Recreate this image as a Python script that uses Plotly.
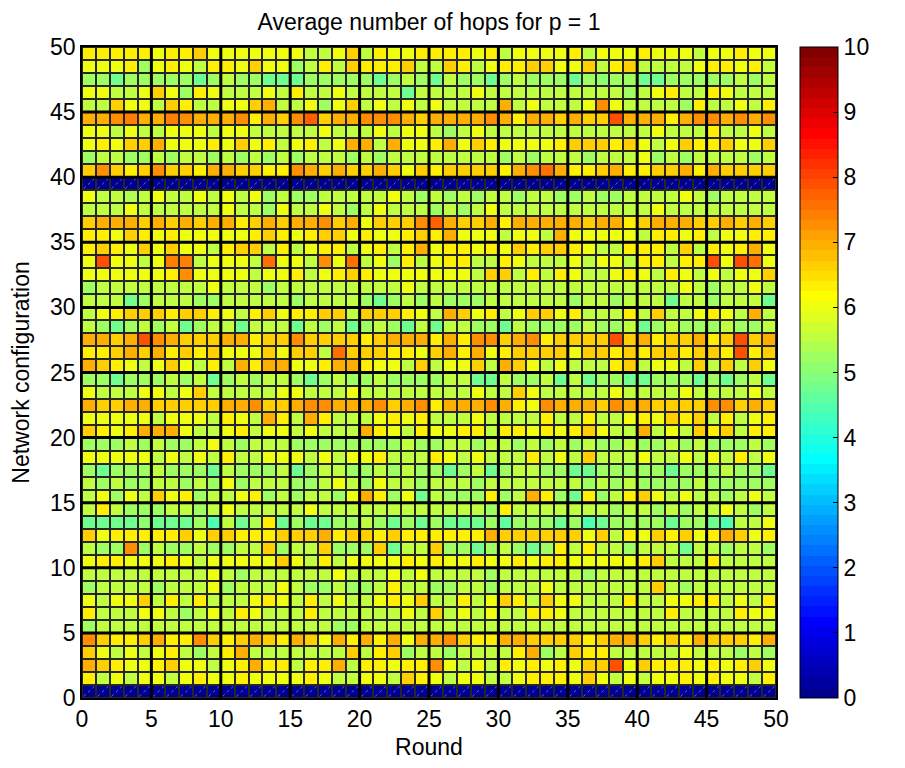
import numpy as np
import plotly.graph_objects as go

# ---------------- data ----------------
# one list per network configuration (row, bottom to top), 50 rounds each
cfg_00 = [0.0,0.0,0.0,0.0,0.0, 0.0,0.0,0.0,0.0,0.0, 0.0,0.0,0.0,0.0,0.0, 0.0,0.0,0.0,0.0,0.0, 0.0,0.0,0.0,0.0,0.0, 0.0,0.0,0.0,0.0,0.0, 0.0,0.0,0.0,0.0,0.0, 0.0,0.0,0.0,0.0,0.0, 0.0,0.0,0.0,0.0,0.0, 0.0,0.0,0.0,0.0,0.0]
cfg_01 = [6.3,5.6,6.0,5.6,6.0, 6.0,5.6,6.0,6.3,6.0, 6.0,6.3,6.0,6.0,6.0, 6.0,6.3,6.0,5.6,5.6, 6.0,6.0,5.6,6.6,6.3, 6.0,5.6,6.0,6.0,5.6, 5.6,6.0,6.3,6.3,6.3, 6.0,6.6,6.0,5.6,6.0, 5.6,6.0,6.0,6.3,6.0, 6.3,6.0,6.0,5.6,6.3]
cfg_02 = [6.9,6.6,6.3,6.0,6.0, 6.3,6.6,6.0,6.0,5.6, 6.0,6.3,6.9,6.3,6.3, 5.6,6.3,6.3,6.9,5.6, 6.3,6.3,6.0,6.3,6.3, 7.3,6.0,5.6,6.0,5.6, 6.3,6.0,6.3,6.0,6.3, 6.0,6.6,6.6,7.9,6.0, 6.6,6.3,6.3,6.3,6.0, 6.3,6.0,6.3,6.6,6.0]
cfg_03 = [6.6,6.0,5.6,6.0,5.6, 6.0,6.3,5.6,5.2,5.6, 6.3,6.9,5.6,5.6,5.6, 5.6,5.6,5.6,5.6,6.6, 5.6,6.3,6.6,5.2,5.6, 5.6,5.2,5.6,5.6,5.6, 5.6,6.3,6.9,5.2,5.6, 6.6,6.3,6.3,5.6,5.6, 5.6,5.6,5.6,6.0,5.6, 5.6,5.6,5.2,5.6,5.2]
cfg_04 = [7.3,6.6,6.3,6.3,6.6, 6.9,6.3,6.3,7.3,6.6, 6.3,6.6,6.9,6.6,6.3, 6.9,6.6,6.0,6.9,6.3, 6.9,6.3,6.9,6.0,6.9, 6.9,7.3,6.6,6.3,6.3, 6.9,6.9,6.6,6.6,6.6, 6.6,6.3,6.6,6.9,6.9, 6.6,6.3,6.6,6.3,6.9, 6.6,6.6,6.6,6.3,6.9]
cfg_05 = [5.2,5.6,5.6,5.6,5.6, 5.6,5.6,5.6,5.6,5.6, 5.6,5.6,5.6,5.6,5.6, 5.6,5.6,5.6,5.2,5.2, 5.6,5.6,5.6,5.6,5.6, 5.6,5.6,5.6,5.6,5.6, 5.6,5.6,5.6,5.6,5.6, 5.6,5.6,5.6,5.6,5.6, 5.6,5.6,5.6,5.6,5.6, 5.6,5.6,5.6,5.6,5.6]
cfg_06 = [6.3,5.6,5.6,5.6,6.0, 6.0,5.6,5.2,5.6,6.0, 5.6,6.3,6.0,5.6,5.6, 5.6,6.3,5.6,5.6,5.6, 5.6,5.6,5.6,6.0,5.6, 6.6,5.6,6.0,5.6,6.0, 5.6,5.6,6.3,6.3,6.0, 5.6,5.6,5.6,5.6,5.6, 5.6,5.6,6.3,5.6,5.6, 5.6,5.6,6.3,6.0,6.0]
cfg_07 = [6.0,5.6,6.0,6.0,6.6, 5.6,6.3,5.6,6.3,5.6, 5.6,5.6,6.0,6.3,6.0, 5.6,6.3,5.6,6.0,5.6, 5.6,6.0,6.3,6.0,6.6, 5.6,5.6,6.3,5.6,6.0, 6.6,6.3,5.6,6.6,6.0, 6.0,5.6,5.6,5.6,6.3, 5.6,5.6,6.0,6.0,6.3, 6.3,5.6,6.0,5.6,6.3]
cfg_08 = [5.2,5.6,5.6,5.6,5.6, 5.2,5.6,5.6,5.6,6.0, 5.2,5.6,5.6,5.6,6.0, 5.6,5.2,5.2,5.6,5.2, 5.2,5.6,6.3,5.6,5.6, 5.2,5.2,5.6,5.6,5.2, 5.6,5.6,5.6,6.0,5.6, 5.6,5.6,5.6,5.6,5.6, 5.6,6.6,5.6,5.2,5.6, 5.6,5.6,5.6,5.6,5.6]
cfg_09 = [5.6,5.6,5.6,5.6,5.6, 5.6,5.6,5.6,5.6,6.0, 5.6,5.2,5.6,5.6,5.6, 5.6,5.6,5.6,6.0,5.6, 5.6,5.6,6.0,5.6,6.0, 5.6,5.6,5.6,5.6,5.2, 5.6,5.6,5.6,5.6,5.6, 5.6,5.2,5.6,5.6,5.6, 5.6,5.6,5.6,5.6,5.6, 5.6,5.6,5.6,5.6,5.6]
cfg_10 = [6.0,6.3,6.3,6.0,6.0, 6.0,6.3,6.0,5.6,6.0, 6.0,6.0,6.0,6.0,6.6, 6.0,5.6,6.3,5.6,6.0, 6.0,6.0,6.0,6.3,6.0, 6.3,6.0,6.0,6.3,6.0, 6.0,6.3,6.0,6.3,6.3, 6.0,6.0,6.0,6.0,6.0, 6.3,6.6,5.6,5.6,5.6, 6.3,5.6,5.6,5.6,5.6]
cfg_11 = [5.6,5.2,5.2,7.2,5.2, 5.6,5.2,5.2,5.6,5.2, 5.2,5.6,5.6,6.6,5.2, 5.6,5.6,6.6,5.2,5.2, 5.2,6.6,4.7,5.6,5.6, 6.6,5.2,5.2,4.7,5.2, 5.6,5.2,4.7,5.2,6.3, 5.6,6.3,5.6,5.6,5.2, 5.6,5.6,5.6,4.7,5.6, 5.6,5.2,5.6,5.6,5.2]
cfg_12 = [6.6,6.0,6.3,6.3,6.3, 6.3,6.3,6.6,6.0,6.6, 6.6,6.3,6.3,6.3,6.6, 6.6,6.6,6.9,6.3,6.6, 6.6,6.3,6.6,6.3,6.3, 6.3,6.3,6.3,6.3,6.9, 6.6,6.6,6.6,6.6,6.6, 6.6,6.0,6.6,5.6,6.3, 6.0,6.6,6.3,6.6,6.0, 6.3,6.9,6.6,6.0,6.3]
cfg_13 = [4.7,4.7,4.7,4.8,5.0, 4.7,4.7,4.8,5.2,4.5, 5.6,4.8,5.4,6.3,4.7, 5.2,4.7,4.7,5.2,5.2, 5.6,5.2,4.7,5.2,4.7, 5.2,4.7,4.7,4.7,5.2, 4.6,5.2,5.2,5.2,4.7, 5.2,4.5,4.7,5.2,5.2, 5.2,5.2,4.7,5.2,5.2, 4.7,4.5,5.6,5.6,6.0]
cfg_14 = [5.6,6.3,5.6,5.2,5.2, 5.2,5.6,5.6,5.2,5.6, 6.0,5.6,5.6,5.6,5.6, 5.6,6.0,5.6,5.6,5.6, 5.6,5.6,5.6,5.6,5.6, 5.6,5.6,5.6,5.6,5.2, 6.3,5.6,5.6,5.6,5.6, 5.6,5.6,5.6,5.2,5.6, 5.6,5.2,5.6,5.2,5.6, 5.6,6.0,5.6,5.2,5.6]
cfg_15 = [5.6,6.0,5.2,6.0,5.6, 6.6,6.0,6.3,5.2,5.6, 5.6,6.0,6.3,5.2,5.6, 5.2,5.6,5.6,5.2,6.0, 6.9,6.3,5.2,6.0,4.8, 5.6,5.2,5.2,5.2,6.3, 5.2,5.6,6.9,6.3,5.2, 4.7,6.3,5.2,5.6,6.3, 6.6,6.0,5.6,6.0,5.6, 5.6,5.2,5.6,6.0,5.6]
cfg_16 = [5.6,5.2,5.6,5.2,5.2, 5.6,5.6,5.2,5.6,5.2, 6.0,5.2,5.6,5.6,5.6, 5.2,5.2,5.6,6.0,5.6, 5.2,6.0,5.6,5.6,5.2, 5.6,5.6,5.6,5.2,5.6, 5.6,5.6,5.6,5.6,5.6, 5.6,5.2,5.6,5.2,5.6, 5.2,5.2,5.2,5.2,5.6, 5.2,5.2,5.2,5.2,5.2]
cfg_17 = [5.2,4.7,5.2,5.2,5.2, 5.6,5.2,5.2,5.2,4.7, 5.6,5.2,5.2,5.2,5.6, 4.7,5.2,5.6,5.6,5.2, 5.2,5.6,5.2,5.6,5.2, 5.2,4.7,5.2,5.6,4.7, 5.2,5.6,5.6,5.2,5.2, 4.7,4.7,5.2,5.2,5.2, 5.2,5.2,4.7,5.2,5.2, 5.2,5.6,5.2,5.2,4.7]
cfg_18 = [6.0,6.0,6.0,6.0,6.0, 5.6,6.0,5.6,6.0,5.6, 6.3,5.6,5.6,6.0,6.0, 6.0,5.6,6.0,5.6,6.0, 6.0,6.3,5.6,5.6,5.6, 6.3,6.0,5.6,6.0,5.6, 5.6,5.6,6.3,5.6,6.0, 5.6,6.6,5.6,5.6,5.6, 6.0,5.6,5.6,6.0,5.6, 6.0,5.6,6.3,5.6,6.0]
cfg_19 = [5.2,5.2,5.2,5.6,5.2, 5.6,5.2,5.2,5.6,6.0, 5.6,5.2,5.6,5.6,5.6, 5.2,5.2,5.2,5.2,5.2, 5.2,5.2,5.2,5.6,5.2, 5.2,5.6,5.6,5.2,5.6, 5.6,5.2,5.6,5.2,5.6, 5.2,5.6,5.2,5.2,5.6, 5.2,5.2,5.6,5.2,5.6, 5.2,5.2,5.2,5.6,5.2]
cfg_20 = [6.6,6.3,6.0,6.3,6.9, 6.9,6.9,6.0,5.6,5.6, 6.0,6.3,5.6,6.0,6.0, 5.6,6.0,5.6,5.6,5.6, 6.9,6.3,6.0,5.6,6.3, 6.0,6.0,6.3,6.3,5.6, 6.3,6.3,6.0,6.3,6.0, 6.3,6.6,6.0,5.6,5.6, 6.9,5.6,6.0,5.6,6.6, 6.3,6.6,5.6,6.3,6.3]
cfg_21 = [6.0,6.0,6.0,6.0,6.0, 5.6,6.0,6.0,6.0,5.6, 6.3,6.0,5.6,6.9,6.3, 5.6,6.9,6.3,5.6,5.6, 5.6,6.0,6.3,6.0,6.3, 5.6,5.6,5.6,6.0,5.6, 5.6,5.6,5.6,6.3,5.6, 5.6,6.3,5.6,5.6,6.0, 6.3,6.0,6.6,6.3,6.6, 5.6,6.3,5.6,6.0,6.3]
cfg_22 = [6.9,6.6,6.6,6.9,6.9, 6.6,6.6,6.6,6.6,6.6, 6.9,6.9,7.3,6.6,6.6, 6.9,7.3,7.3,6.9,6.9, 6.9,7.3,6.6,6.9,7.3, 6.3,6.9,6.9,6.9,7.3, 6.9,6.3,6.0,7.3,6.9, 6.9,6.9,6.6,7.3,6.9, 6.9,6.6,6.6,6.6,6.6, 7.3,7.3,6.6,6.9,6.6]
cfg_23 = [6.0,5.6,5.6,5.6,6.0, 6.0,5.6,6.0,6.6,5.6, 5.6,5.6,5.6,5.6,6.0, 6.0,5.6,5.6,5.6,6.0, 5.6,5.6,5.6,5.6,5.6, 5.6,5.6,5.6,6.0,5.6, 5.6,6.6,6.0,5.6,5.6, 5.6,5.6,5.6,6.0,5.6, 5.6,5.6,5.6,6.0,5.6, 5.6,5.6,5.6,6.0,5.6]
cfg_24 = [5.2,5.2,4.7,5.2,5.2, 5.2,5.6,5.2,5.6,4.7, 5.2,5.6,5.2,5.6,5.6, 5.2,4.7,5.2,5.6,5.2, 5.2,5.6,5.2,5.2,5.2, 5.2,5.6,5.6,4.7,4.7, 5.6,5.2,5.2,5.6,4.7, 5.6,4.7,5.2,5.2,4.7, 4.7,5.2,5.2,5.2,4.7, 5.2,4.7,5.2,5.6,4.7]
cfg_25 = [6.9,6.6,6.3,6.0,5.6, 6.0,6.6,6.0,5.6,6.3, 5.6,6.9,6.3,6.9,6.9, 6.0,6.0,6.3,6.9,6.9, 6.3,6.0,6.0,5.6,6.6, 5.6,6.0,6.0,6.6,5.6, 6.9,6.6,6.0,5.6,6.0, 5.6,5.6,5.6,6.3,6.6, 5.6,6.0,6.0,5.6,6.6, 5.6,6.6,5.6,6.6,6.0]
cfg_26 = [6.3,6.3,6.6,6.9,6.6, 6.9,6.3,6.6,6.3,6.6, 6.0,6.0,6.0,6.6,6.0, 6.6,6.6,5.6,7.6,6.6, 6.6,6.6,6.3,6.3,6.0, 6.6,6.9,6.3,6.9,6.0, 6.3,6.6,6.6,6.6,6.6, 6.0,6.6,6.6,6.3,6.6, 6.3,6.6,6.6,6.3,6.6, 6.6,6.3,7.9,6.3,6.6]
cfg_27 = [6.9,6.9,6.6,6.9,7.9, 7.3,6.9,6.6,6.6,6.6, 6.9,6.9,6.3,6.6,6.6, 7.3,6.6,6.6,6.6,6.6, 6.3,6.6,6.9,6.9,6.9, 6.3,6.9,6.3,7.3,7.3, 6.6,6.9,7.3,6.3,6.6, 6.6,6.6,6.6,7.9,6.6, 6.9,6.3,6.6,6.6,6.9, 6.3,6.6,7.9,6.6,6.9]
cfg_28 = [5.6,5.2,4.7,5.2,5.6, 5.2,5.6,4.7,5.2,5.6, 5.6,4.7,5.6,5.6,5.6, 4.7,5.6,5.2,5.6,4.7, 5.2,5.6,5.2,4.7,5.6, 4.7,5.6,5.6,5.2,5.2, 4.7,5.6,5.2,5.2,5.2, 5.2,5.6,5.2,5.2,5.6, 4.7,5.2,5.6,5.2,5.2, 5.2,5.6,5.2,5.2,5.6]
cfg_29 = [5.6,6.0,6.3,6.6,6.6, 6.6,6.3,6.6,6.6,6.3, 6.0,5.6,6.3,6.6,6.0, 6.3,6.3,6.6,6.6,5.6, 6.6,6.6,6.6,6.3,6.0, 5.6,6.9,6.6,6.0,6.3, 5.6,6.0,6.6,6.6,6.0, 6.3,5.6,5.6,5.6,6.3, 5.6,6.6,5.6,5.6,6.0, 6.3,6.0,5.6,6.9,5.6]
cfg_30 = [5.6,5.6,5.6,4.8,5.2, 5.6,5.6,5.6,5.2,5.2, 5.6,5.6,5.6,5.6,5.6, 5.2,5.6,5.6,5.6,5.6, 5.2,4.7,5.2,5.6,5.2, 5.6,5.2,5.2,5.2,5.6, 5.6,5.6,5.6,5.6,5.6, 5.2,5.6,5.6,5.2,5.6, 5.6,5.6,4.8,5.6,5.6, 5.2,5.6,5.6,5.6,4.8]
cfg_31 = [5.2,5.6,5.6,5.6,5.6, 5.6,5.6,5.6,5.6,6.0, 5.6,5.6,5.6,5.2,5.6, 5.6,5.6,5.6,5.6,5.6, 5.6,5.6,5.6,6.0,5.6, 5.6,5.6,5.6,5.6,5.6, 5.6,5.6,5.6,5.6,5.6, 5.6,5.6,5.6,5.6,5.6, 5.6,5.6,5.6,6.0,5.6, 5.2,5.6,5.6,6.0,5.6]
cfg_32 = [6.0,6.0,6.0,6.0,6.0, 6.0,6.3,7.2,6.0,6.0, 6.0,6.0,5.6,6.0,6.0, 6.3,5.6,6.0,6.3,6.6, 6.3,6.0,6.0,6.0,6.0, 6.0,6.0,6.0,5.6,6.6, 6.6,5.6,6.3,5.6,6.3, 6.0,5.6,5.6,6.0,6.3, 6.0,5.6,6.3,6.0,5.6, 6.0,5.6,6.0,6.0,6.6]
cfg_33 = [6.0,7.9,6.0,6.0,5.6, 6.0,7.35,7.35,5.6,6.0, 6.0,6.0,5.6,7.5,6.0, 6.0,5.6,7.3,6.0,7.5, 5.6,6.0,5.2,6.3,5.6, 6.0,6.3,6.3,5.6,5.6, 6.3,6.0,5.6,5.6,5.6, 6.0,5.6,6.0,6.0,5.6, 6.3,6.3,5.6,6.3,6.3, 7.9,6.0,7.9,7.5,6.0]
cfg_34 = [6.3,6.6,6.3,6.0,6.6, 6.0,6.6,6.0,6.0,5.6, 6.3,6.6,6.6,5.6,6.3, 5.6,6.0,6.3,6.3,5.6, 6.0,6.3,5.6,6.3,6.9, 6.0,6.3,6.3,6.0,6.3, 6.0,6.6,6.3,6.6,6.6, 6.3,6.0,5.6,5.6,6.3, 6.3,6.3,5.6,6.6,5.6, 6.3,6.0,6.3,6.9,6.0]
cfg_35 = [6.3,6.3,6.0,6.6,6.3, 6.0,6.3,6.0,6.0,6.0, 6.0,6.0,6.3,6.6,6.3, 6.0,6.3,6.6,6.6,6.0, 6.3,6.0,6.0,6.3,6.6, 6.3,6.9,6.0,6.0,6.0, 5.6,6.0,6.0,5.6,6.9, 6.0,6.0,6.0,6.0,6.0, 5.6,6.3,6.3,6.0,6.3, 5.6,6.0,6.0,6.3,6.3]
cfg_36 = [6.6,6.9,6.9,6.9,6.6, 6.9,6.6,6.9,6.6,6.9, 6.9,6.3,6.6,6.9,6.6, 6.9,6.9,7.3,6.6,6.9, 6.0,6.6,6.6,6.6,7.3, 7.7,6.9,6.6,6.6,6.9, 6.3,6.9,6.9,6.9,6.9, 6.9,6.6,6.9,6.9,6.3, 6.6,6.9,6.9,6.9,6.6, 6.6,6.9,6.6,6.9,6.6]
cfg_37 = [5.6,5.6,5.6,6.0,5.6, 5.6,5.6,5.6,5.6,5.6, 6.0,5.6,5.6,5.2,6.0, 5.6,5.6,6.0,5.6,5.2, 5.6,6.0,5.6,5.6,5.6, 5.2,5.6,5.2,5.6,6.0, 5.6,5.6,5.6,5.6,5.6, 5.6,5.6,5.6,5.6,5.6, 5.6,6.0,5.6,5.6,5.6, 5.6,5.6,5.6,5.6,5.6]
cfg_38 = [6.0,5.6,5.6,5.4,5.6, 6.0,5.6,5.6,6.0,5.6, 6.0,5.6,6.0,5.2,5.6, 5.2,5.2,5.6,5.6,5.6, 5.6,5.6,6.0,5.6,5.2, 5.6,5.2,5.6,5.2,5.6, 5.6,5.2,5.6,5.6,5.2, 5.2,5.6,5.2,5.2,5.6, 5.6,5.6,5.6,6.0,5.6, 5.2,5.6,5.6,5.6,5.6]
cfg_39 = [0.0,0.0,0.0,0.0,0.0, 0.0,0.0,0.0,0.0,0.0, 0.0,0.0,0.0,0.0,0.0, 0.0,0.0,0.0,0.0,0.0, 0.0,0.0,0.0,0.0,0.0, 0.0,0.0,0.0,0.0,0.0, 0.0,0.0,0.0,0.0,0.0, 0.0,0.0,0.0,0.0,0.0, 0.0,0.0,0.0,0.0,0.0, 0.0,0.0,0.0,0.0,0.0]
cfg_40 = [6.6,7.3,6.6,6.3,6.6, 7.3,6.6,6.6,6.3,6.9, 6.9,6.6,6.6,6.3,6.3, 7.3,6.9,6.6,6.9,6.6, 6.6,6.9,6.6,6.0,6.6, 6.3,6.6,6.6,6.6,6.6, 6.3,6.9,7.3,7.6,6.9, 6.3,6.3,6.6,6.9,6.3, 6.3,6.6,6.6,6.9,6.3, 6.9,6.6,6.6,6.6,6.6]
cfg_41 = [5.2,5.6,5.6,5.2,5.2, 5.6,5.2,5.6,5.6,5.2, 5.6,5.2,5.6,5.2,5.6, 5.2,5.6,5.6,5.6,5.2, 5.6,5.2,5.6,5.6,5.6, 5.6,5.6,5.6,5.6,5.6, 5.2,5.6,5.2,5.6,5.6, 5.6,5.2,5.6,5.6,5.6, 6.0,5.2,5.6,5.2,5.6, 5.6,5.6,5.6,5.2,5.6]
cfg_42 = [6.0,6.3,6.0,6.6,6.6, 6.9,6.0,6.0,6.0,6.3, 6.0,6.6,6.0,6.3,5.6, 6.0,6.3,5.6,6.0,6.9, 6.9,5.6,6.9,6.0,6.0, 6.3,6.9,6.0,6.6,6.3, 6.0,6.0,6.0,6.0,6.3, 6.6,6.6,6.6,6.3,6.6, 6.0,5.6,6.0,6.6,6.3, 6.3,6.6,6.0,6.0,6.6]
cfg_43 = [6.0,6.0,5.6,6.0,5.6, 5.6,6.0,6.0,6.0,5.6, 6.0,6.0,5.6,5.6,5.6, 5.6,5.6,6.0,5.6,5.6, 5.6,6.0,5.6,6.0,6.0, 5.6,5.2,5.6,6.0,5.6, 5.6,5.6,5.6,5.6,5.6, 5.6,5.6,5.6,5.6,5.6, 5.6,6.0,5.6,5.6,5.6, 6.3,5.6,5.6,6.0,5.6]
cfg_44 = [6.9,6.9,7.3,7.35,6.9, 6.9,7.35,7.3,6.9,6.9, 6.9,7.3,6.3,6.9,6.6, 7.3,7.7,6.6,6.9,6.9, 7.3,7.3,7.3,6.9,6.6, 6.9,6.9,6.9,6.9,7.3, 6.9,6.3,6.9,6.9,6.6, 6.9,6.6,6.7,7.9,6.9, 6.9,6.9,6.3,6.9,7.3, 7.3,6.9,7.3,6.9,7.3]
cfg_45 = [5.6,5.6,6.6,6.0,6.0, 5.6,6.6,6.3,5.6,5.6, 6.0,6.0,6.6,6.9,5.6, 5.6,6.0,5.2,6.0,6.6, 5.6,6.0,5.6,6.0,5.6, 6.0,5.6,5.6,5.6,5.6, 6.9,5.6,6.0,5.6,5.6, 5.6,6.0,7.3,6.0,5.6, 5.6,5.6,5.6,5.2,6.3, 5.6,5.6,6.0,5.6,6.3]
cfg_46 = [6.0,6.0,5.6,5.6,6.0, 6.6,6.0,5.2,6.3,6.0, 5.6,5.6,5.6,6.0,5.6, 6.3,5.6,5.6,6.0,5.6, 5.6,5.6,5.6,4.8,5.6, 5.6,5.6,5.6,6.0,5.6, 5.6,5.6,5.6,5.6,5.6, 5.6,5.6,5.6,5.6,5.2, 5.6,6.0,6.3,5.6,5.6, 6.3,6.0,5.6,5.6,5.6]
cfg_47 = [5.2,5.2,4.7,5.2,5.2, 5.2,5.2,5.2,4.7,5.2, 5.6,5.2,5.2,4.7,4.7, 4.7,5.2,5.2,5.2,5.2, 5.2,4.7,5.2,5.6,5.2, 4.7,5.6,5.2,5.2,4.7, 5.2,5.6,5.2,5.2,5.2, 4.7,5.2,5.0,5.2,5.2, 4.7,4.7,5.2,5.2,5.2, 5.2,5.2,5.6,5.2,5.6]
cfg_48 = [6.0,6.0,6.0,6.3,5.2, 6.0,6.3,6.0,5.6,6.3, 6.3,6.0,6.6,6.0,6.0, 5.2,5.6,6.3,5.6,6.6, 6.3,6.3,6.3,6.6,5.6, 5.6,6.6,6.3,5.6,6.0, 6.3,6.3,6.6,6.6,6.0, 6.0,6.6,5.6,6.3,6.6, 5.6,5.6,5.6,5.6,6.0, 6.3,6.3,6.0,6.3,5.6]
cfg_49 = [6.3,6.3,6.3,6.3,6.3, 6.0,6.3,6.3,6.6,6.0, 6.0,6.0,6.0,6.0,6.0, 6.0,5.6,5.6,6.0,6.6, 5.6,6.3,6.0,6.0,6.3, 6.3,6.3,6.3,6.0,6.3, 5.6,6.0,6.0,6.0,6.0, 6.3,5.6,6.0,6.0,6.0, 6.3,6.0,6.0,6.0,5.6, 6.0,6.0,6.3,6.0,6.0]

hops = [cfg_00, cfg_01, cfg_02, cfg_03, cfg_04, cfg_05, cfg_06, cfg_07, cfg_08, cfg_09,
        cfg_10, cfg_11, cfg_12, cfg_13, cfg_14, cfg_15, cfg_16, cfg_17, cfg_18, cfg_19,
        cfg_20, cfg_21, cfg_22, cfg_23, cfg_24, cfg_25, cfg_26, cfg_27, cfg_28, cfg_29,
        cfg_30, cfg_31, cfg_32, cfg_33, cfg_34, cfg_35, cfg_36, cfg_37, cfg_38, cfg_39,
        cfg_40, cfg_41, cfg_42, cfg_43, cfg_44, cfg_45, cfg_46, cfg_47, cfg_48, cfg_49]

round_index = list(range(50))          # columns (Round)
config_index = list(range(50))         # rows (Network configuration)
axis_ticks = [0, 5, 10, 15, 20, 25, 30, 35, 40, 45, 50]
axis_tick_labels = ["0", "5", "10", "15", "20", "25", "30", "35", "40", "45", "50"]
cbar_ticks = [0, 1, 2, 3, 4, 5, 6, 7, 8, 9, 10]
block_lines = [5, 10, 15, 20, 25, 30, 35, 40, 45]

# ---------------- MATLAB jet(64) colormap ----------------
def matlab_jet(m=64):
    n = int(np.ceil(m / 4))
    u = np.concatenate([np.arange(1, n + 1) / n, np.ones(n - 1), np.arange(n, 0, -1) / n])
    g = int(np.ceil(n / 2)) - (1 if m % 4 == 1 else 0) + np.arange(1, len(u) + 1)
    r = g + n
    b = g - n
    J = np.zeros((m, 3))
    for ch, idxs in ((0, r), (1, g), (2, b)):
        for k, val in zip(idxs, u):
            if 1 <= k <= m:
                J[k - 1, ch] = val
    return J

jet = matlab_jet(64)
colorscale = []
for i, c in enumerate(jet):
    col = "rgb(%d,%d,%d)" % tuple(int(round(v * 255)) for v in c)
    colorscale.append([i / 64, col])
    colorscale.append([(i + 1) / 64, col])

FONT = "Liberation Sans, Arial, Helvetica, sans-serif"
FS = 23

# the page body adds an ~8px offset, so margins are compensated
ML, MT, PW, PH = 74, 39, 694, 651
W, H = 905, 768

fig = go.Figure()
fig.add_trace(go.Heatmap(
    z=hops,
    x=[c + 0.5 for c in round_index],
    y=[r + 0.5 for r in config_index],
    colorscale=colorscale, zmin=0, zmax=10,
    xgap=2, ygap=2,
    colorbar=dict(
        thickness=38, len=1, lenmode="fraction", x=1 + 24 / PW, xanchor="left",
        xpad=0, ypad=0, y=0.5, yanchor="middle", tickvals=cbar_ticks,
        ticks="inside", ticklen=5, tickcolor="black",
        outlinecolor="black", outlinewidth=1,
        tickfont=dict(size=FS, family=FONT, color="black"),
    ),
    hoverinfo="skip",
))

# faint diagonal hatch on the empty (zero) cells
hx, hy = [], []
for r, row in zip(config_index, hops):
    for c, v in zip(round_index, row):
        if v == 0:
            hx += [c + 0.12, c + 0.88, None]
            hy += [r + 0.12, r + 0.88, None]
fig.add_trace(go.Scatter(x=hx, y=hy, mode="lines",
                         line=dict(color="rgba(130,130,255,0.75)", width=1, dash="dot"),
                         hoverinfo="skip", showlegend=False))

for v in block_lines:
    fig.add_shape(type="line", x0=v, x1=v, y0=0, y1=50, xref="x", yref="y",
                  line=dict(color="black", width=3), layer="above")
    fig.add_shape(type="line", x0=0, x1=50, y0=v, y1=v, xref="x", yref="y",
                  line=dict(color="black", width=3), layer="above")

fig.update_layout(
    width=W, height=H,
    margin=dict(l=ML, r=W - ML - PW, t=MT, b=H - MT - PH, autoexpand=False),
    paper_bgcolor="white", plot_bgcolor="#262626",
    font=dict(family=FONT, color="black", size=FS),
    title=dict(text="Average number of hops for p = 1", x=0.5, xanchor="center", xref="paper",
               y=1 - 14 / H, yanchor="middle", yref="container",
               font=dict(size=23, family=FONT, color="black")),
    showlegend=False,
)
fig.update_xaxes(range=[0, 50], tickvals=axis_ticks, ticktext=axis_tick_labels,
                 ticks="inside", ticklen=5, tickcolor="black",
                 showline=True, mirror=True, linecolor="black", linewidth=1.5,
                 showgrid=False, zeroline=False, automargin=False,
                 title=dict(text="Round", standoff=8, font=dict(size=FS)),
                 tickfont=dict(size=FS))
fig.update_yaxes(range=[0, 50], tickvals=axis_ticks, ticktext=axis_tick_labels,
                 ticks="inside", ticklen=5, tickcolor="black",
                 showline=True, mirror=True, linecolor="black", linewidth=1.5,
                 showgrid=False, zeroline=False, automargin=False,
                 title=dict(text="Network configuration", standoff=15, font=dict(size=FS)),
                 tickfont=dict(size=FS))

fig.write_html("out.html")
